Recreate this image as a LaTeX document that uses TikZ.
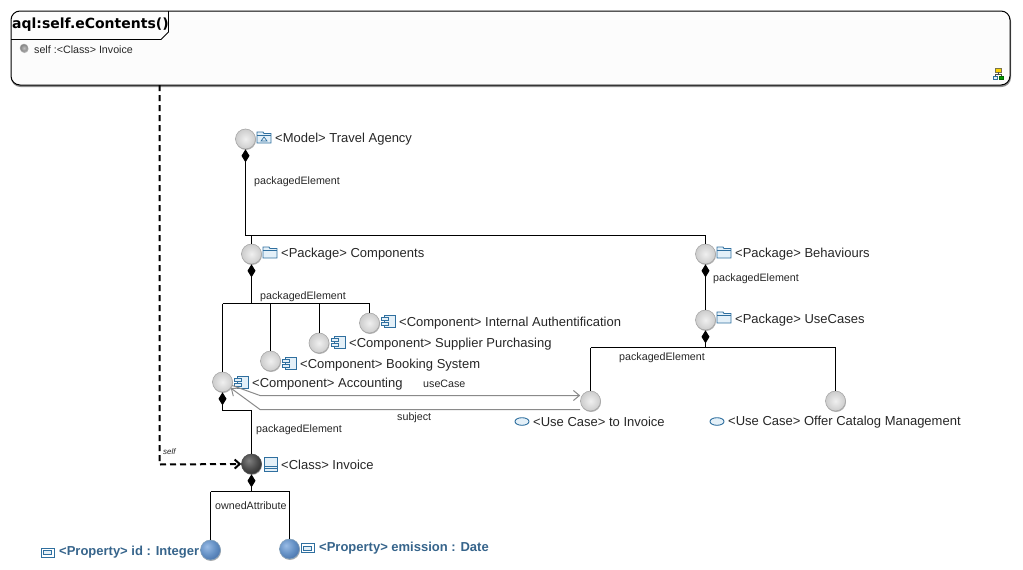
\documentclass[tikz,border=0pt]{standalone}
\usepackage{fontspec}
\setmainfont{Liberation Sans}
\newfontfamily\titlefont{DejaVu Sans}
\usetikzlibrary{arrows.meta,shadows}

\definecolor{iconblue}{HTML}{2F6F9F}
\definecolor{iconfill}{HTML}{E4F0F8}
\definecolor{propblue}{HTML}{36648B}
\definecolor{linkgray}{HTML}{8A8A8A}
\definecolor{blueA}{HTML}{9ABCE6}
\definecolor{blueB}{HTML}{6490C4}
\definecolor{blueC}{HTML}{345C98}
\definecolor{darkA}{HTML}{808080}
\definecolor{darkB}{HTML}{4C4C4C}
\definecolor{darkC}{HTML}{141414}

\pgfdeclareradialshading{blueshade}{\pgfpoint{-9bp}{9bp}}{%
  color(0bp)=(blueA); color(20bp)=(blueB); color(45bp)=(blueC); color(100bp)=(blueC)}
\pgfdeclareradialshading{darkshade}{\pgfpoint{-7bp}{9bp}}{%
  color(0bp)=(darkA); color(20bp)=(darkB); color(45bp)=(darkC); color(100bp)=(darkC)}

\tikzset{
  folderpic/.pic={
    \draw[iconblue,fill=iconfill,line width=.9pt] (-7,-4.5) -- (-7,-6) -- (-1,-6) -- (0,-4.5) -- (7,-4.5) -- (7,5) -- (-7,5) -- cycle;
    \draw[iconblue,line width=.9pt] (-7,-3) -- (7,-3);
  },
  modelpic/.pic={
    \pic {folderpic};
    \draw[iconblue,line width=.7pt] (-3,3) -- (0,-1) -- (3,3) -- cycle;
  },
  componentpic/.pic={
    \draw[iconblue,fill=iconfill,line width=.9pt] (-4,-6) rectangle (7,6);
    \draw[iconblue,fill=iconfill,line width=.9pt] (-7,-3.5) rectangle (0,-.5);
    \draw[iconblue,fill=iconfill,line width=.9pt] (-7,1.5) rectangle (0,4.5);
  },
  classpic/.pic={
    \draw[iconblue,fill=iconfill,line width=.9pt] (-6.5,-7) rectangle (6.5,7);
    \draw[iconblue,line width=.9pt] (-6.5,2) -- (6.5,2) (-6.5,4.5) -- (6.5,4.5);
  },
  usecasepic/.pic={
    \draw[iconblue,fill=iconfill,line width=.9pt] (0,0) ellipse (7 and 3.8);
  },
  propertypic/.pic={
    \draw[iconblue,line width=.9pt] (-6.5,-4.5) rectangle (6.5,4.5);
    \draw[iconblue,fill=iconfill,line width=.8pt] (-4,-2) rectangle (4,2);
  }
}

\begin{document}
\begin{tikzpicture}[
  x=1pt,y=-1pt,
  ballbase/.style={circle,line width=.6pt,minimum size=20pt,inner sep=0pt,
    copy shadow={shadow xshift=.5pt,shadow yshift=-1pt,draw=none,fill=black!30}},
  ball/.style={ballbase,draw=black!35,inner color=black!6,outer color=black!20},
  darkball/.style={ballbase,draw=black!70,shade,shading=darkshade},
  propball/.style={ballbase,draw=propblue!60,shade,shading=blueshade},
  elabel/.style={anchor=west,inner sep=0pt,font=\fontsize{13pt}{15pt}\selectfont,text=black!85},
  proplabel/.style={anchor=west,inner sep=0pt,font=\fontsize{13pt}{15pt}\selectfont\bfseries,text=propblue},
  rlabel/.style={anchor=west,inner sep=0pt,font=\fontsize{10.7pt}{12pt}\selectfont,text=black!85},
  comp/.style={black,line width=1pt},
  compstart/.style={comp,{Diamond[length=13pt,width=8pt]}-},
  link/.style={linkgray,line width=1pt,-{Straight Barb[length=6pt,width=10pt]}},
  selfref/.style={black,line width=2pt,dash pattern=on 6pt off 4pt,-{Straight Barb[length=5pt,width=9pt]}}
]
  \useasboundingbox (0,0) rectangle (1023,570);

  % container
  \node[draw=black,line width=1pt,rounded corners=9pt,fill=black!1,minimum width=999pt,minimum height=74pt,inner sep=0pt,
    copy shadow={shadow xshift=.5pt,shadow yshift=-1.5pt,draw=black!45,fill=black!45}] (aqlbox) at (510.5,48) {};
  \draw[black,line width=.8pt] (11,39.5) -- (161,39.5) -- (168.5,32) -- (168.5,11);
  \node[anchor=west,inner sep=0pt,font=\titlefont\bfseries\fontsize{14pt}{16pt}\selectfont] (aqltitle) at (12,25) {aql:self.eContents()};
  \node[ball,minimum size=8pt,line width=.4pt,inner color=black!25,outer color=black!50] (selfball) at (24,48) {};
  \node[rlabel] (selflabel) at (34,49.5) {self :<Class> Invoice};

  % hierarchy icon
  \draw[black!60!yellow,fill=yellow!70!orange,line width=.7pt] (995,68) rectangle (1001,72);
  \draw[black!70,line width=.7pt] (998,72) -- (998,74.5) (995.5,76) -- (995.5,74.5) -- (1001,74.5) -- (1001,76);
  \draw[iconblue,fill=iconfill,line width=.7pt] (993,76) rectangle (997.5,79);
  \draw[green!40!black,fill=green!60!black,line width=.7pt] (999,76) rectangle (1003.5,79);

  % balls
  \node[ball] (model) at (245.5,139) {};
  \node[ball] (components) at (251.5,254) {};
  \node[ball] (behaviours) at (705.5,254) {};
  \node[ball] (usecases) at (705.5,320) {};
  \node[ball] (internal) at (369.5,323) {};
  \node[ball] (supplier) at (319,343) {};
  \node[ball] (booking) at (270.5,361) {};
  \node[ball] (accounting) at (222.5,382) {};
  \node[ball] (toinvoice) at (590.5,401) {};
  \node[ball] (offer) at (835.5,401) {};
  \node[darkball] (invoice) at (251.5,464) {};
  \node[propball] (idprop) at (210.5,550) {};
  \node[propball] (emission) at (289.5,549) {};

  % icons
  \pic at (264,138) {modelpic};
  \pic at (270,253) {folderpic};
  \pic at (724,253) {folderpic};
  \pic at (724,318) {folderpic};
  \pic at (388,321) {componentpic};
  \pic at (338,342) {componentpic};
  \pic at (289,363) {componentpic};
  \pic at (241,382) {componentpic};
  \pic at (522,421.5) {usecasepic};
  \pic at (717,421.5) {usecasepic};
  \pic at (270.5,464) {classpic};
  \pic at (47.5,552.5) {propertypic};
  \pic at (307.5,548) {propertypic};

  % element labels
  \node[elabel] (modellabel) at (275,139.5) {<Model> Travel Agency};
  \node[elabel] (componentslabel) at (281,254.5) {<Package> Components};
  \node[elabel] (behaviourslabel) at (735,254.5) {<Package> Behaviours};
  \node[elabel] (usecaseslabel) at (735,320.5) {<Package> UseCases};
  \node[elabel] (internallabel) at (399,323.5) {<Component> Internal Authentification};
  \node[elabel] (supplierlabel) at (349,344.5) {<Component> Supplier Purchasing};
  \node[elabel] (bookinglabel) at (300,365.5) {<Component> Booking System};
  \node[elabel] (accountinglabel) at (252,384.5) {<Component> Accounting};
  \node[elabel] (toinvoicelabel) at (533,422) {<Use Case> to Invoice};
  \node[elabel] (offerlabel) at (728,422) {<Use Case> Offer Catalog Management};
  \node[elabel] (invoicelabel) at (281,465) {<Class> Invoice};
  \node[proplabel] (idlabel) at (59,552.5) {<Property> id : Integer};
  \node[proplabel] (emissionlabel) at (319,548.5) {<Property> emission : Date};

  % junctions
  \coordinate (jmodel) at (245.5,235.5);
  \coordinate (jcomponents) at (251.5,235.5);
  \coordinate (jbehaviours) at (705.5,235.5);
  \coordinate (jpack) at (251.5,303.5);
  \coordinate (jaccounting) at (222.5,303.5);
  \coordinate (jbooking) at (270.5,303.5);
  \coordinate (jsupplier) at (319,303.5);
  \coordinate (jinternal) at (369.5,303.5);
  \coordinate (juse) at (705.5,347.5);
  \coordinate (jtoinvoice) at (590.5,347.5);
  \coordinate (joffer) at (835.5,347.5);
  \coordinate (jaccdown) at (222.5,410.5);
  \coordinate (jinvoice) at (251.5,410.5);
  \coordinate (jclass) at (251.5,491.5);
  \coordinate (jid) at (210.5,491.5);
  \coordinate (jemission) at (289.5,491.5);

  % composition edges
  \draw[compstart] (model.south) -- (jmodel);
  \draw[comp] (jmodel) -- (jbehaviours) -- (behaviours.north);
  \draw[comp] (jcomponents) -- (components.north);
  \draw[compstart] (components.south) -- (jpack);
  \draw[comp] (jaccounting) -- (jinternal) -- (internal.north);
  \draw[comp] (jaccounting) -- (accounting.north);
  \draw[comp] (jbooking) -- (booking.north);
  \draw[comp] (jsupplier) -- (supplier.north);
  \draw[compstart] (behaviours.south) -- (usecases.north);
  \draw[compstart] (usecases.south) -- (juse);
  \draw[comp] (jtoinvoice) -- (joffer) -- (offer.north);
  \draw[comp] (jtoinvoice) -- (toinvoice.north);
  \draw[compstart] (accounting.south) -- (jaccdown);
  \draw[comp] (jaccdown) -- (jinvoice) -- (invoice.north);
  \draw[compstart] (invoice.south) -- (jclass);
  \draw[comp] (jid) -- (jemission) -- (emission.north);
  \draw[comp] (jid) -- (idprop.north);

  % uml links
  \coordinate (linkup) at (260,395.5);
  \coordinate (linkdown) at (260,409.5);
  \draw[link] (accounting) -- (linkup) -- (toinvoice.west |- linkup);
  \draw[link] (toinvoice.west |- linkdown) -- (linkdown) -- (accounting);

  % self edge
  \coordinate (selfstart) at (159.5,85);
  \coordinate (selfbend) at (159.5,464.5);
  \draw[selfref] (selfstart) -- (selfbend) -- (invoice.west);

  % edge labels
  \node[rlabel] (packlabelA) at (254,182) {packagedElement};
  \node[rlabel] (packlabelB) at (260,296.5) {packagedElement};
  \node[rlabel] (packlabelC) at (713,279) {packagedElement};
  \node[rlabel] (packlabelD) at (619,358) {packagedElement};
  \node[rlabel] (packlabelE) at (256,430) {packagedElement};
  \node[rlabel] (ownedlabel) at (215,506) {ownedAttribute};
  \node[rlabel] (usecaselabel) at (423,384) {useCase};
  \node[rlabel] (subjectlabel) at (397,418) {subject};
  \node[rlabel,font=\fontsize{8pt}{9pt}\selectfont\itshape] (selfedgelabel) at (163,452) {self};
\end{tikzpicture}
\end{document}
